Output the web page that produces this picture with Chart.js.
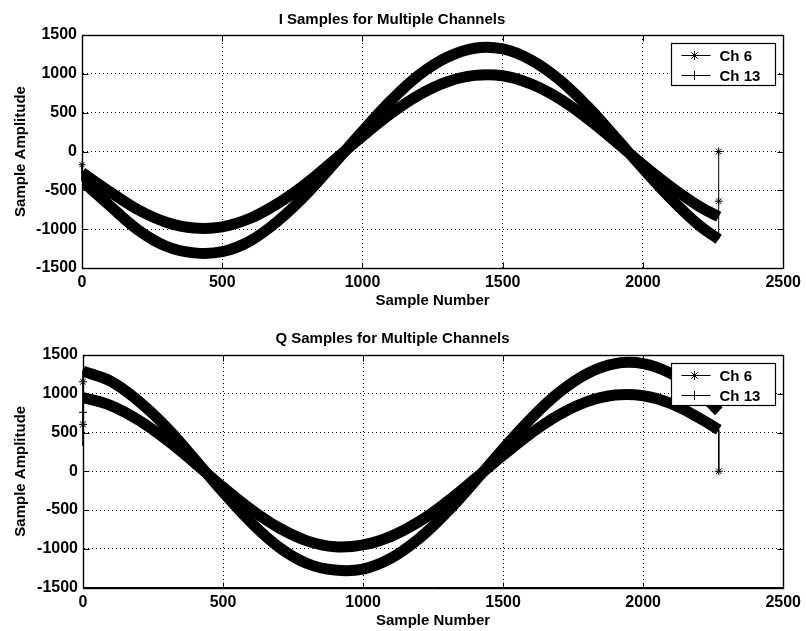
<!DOCTYPE html>
<html>
<head>
<meta charset="utf-8">
<script src="https://cdn.jsdelivr.net/npm/chart.js@4.4.1/dist/chart.umd.min.js"></script>
<style>
html,body{margin:0;padding:0;background:#fff;}
#wrap{position:relative;width:806px;height:631px;overflow:hidden;background:#fff;}
canvas{position:absolute;left:0;}
</style>
</head>
<body>
<div id="wrap">
<canvas id="cI" width="806" height="315" style="top:0px"></canvas>
<canvas id="cQ" width="806" height="316" style="top:315px"></canvas>
</div>
<script>
// ---------- data ----------
const sampleNumbers = [0,100,200,300,400,500,600,700,800,900,1000,1100,1200,1300,1400,1500,1600,1700,1800,1900,2000,2100,2200,2270];

// I samples
const iCh6  = [-380,-700,-1010,-1220,-1305,-1290,-1150,-890,-550,-150,260,650,980,1210,1330,1320,1180,930,590,190,-220,-610,-950,-1130];
const iCh13 = [-270,-520,-750,-910,-985,-970,-860,-665,-410,-110,195,485,725,895,980,975,870,685,430,135,-170,-455,-705,-840];

// Q samples
const qCh6  = [952,847,656,400,103,-205,-493,-731,-898,-975,-951,-840,-649,-393,-98,206,491,730,899,983,974,872,687,535];
const qCh13 = [1290,1160,900,560,150,-270,-660,-980,-1190,-1275,-1262,-1122,-869,-526,-127,289,683,1018,1261,1389,1389,1261,1018,775];

// odd first / last samples (vertical jumps)
const iStartX = [0,0];            const iStartY = [-170,-380];
const iEndX   = [2270,2270,2270]; const iEndY   = [-1130,-640,0];
const qStartX = [0,0,0,0,0];      const qStartY = [1300,1155,760,605,330];
const qEndX   = [2270,2270];      const qEndY   = [535,0];

// tick labels
const xTicks = [0,500,1000,1500,2000,2500];
const yTicks = [-1500,-1000,-500,0,500,1000,1500];

const seriesNames = ['Ch 6','Ch 13'];
const titles = ['I Samples for Multiple Channels','Q Samples for Multiple Channels'];
const xTitle = 'Sample Number';
const yTitle = 'Sample Amplitude';

// ---------- helpers ----------
const FONT = "'Liberation Sans', Arial, Helvetica, sans-serif";
Chart.defaults.font.family = FONT;
Chart.defaults.font.size = 15;
Chart.defaults.font.weight = 'bold';
Chart.defaults.color = '#000';

const pts = (xs, ys) => xs.map((x, i) => ({x: x, y: ys[i]}));

function drawMarker(ctx, style, x, y, r) {
  const angles = style === 'star' ? [0, 45, 90, 135] : [0, 90];
  ctx.beginPath();
  angles.forEach(a => {
    const rad = a * Math.PI / 180;
    const dx = Math.cos(rad) * r, dy = Math.sin(rad) * r;
    ctx.moveTo(x - dx, y - dy);
    ctx.lineTo(x + dx, y + dy);
  });
  ctx.stroke();
}

const framePlugin = {
  id: 'matlabFrame',
  afterDatasetsDraw(chart) {
    const ctx = chart.ctx, ca = chart.chartArea;
    const xs = chart.scales.x, ys = chart.scales.y;
    const L = Math.round(ca.left) + 0.5, R = Math.round(ca.right) + 0.5;
    const T = Math.round(ca.top) + 0.5, B = Math.round(ca.bottom) + 0.5;
    ctx.save();
    ctx.strokeStyle = '#000';
    ctx.lineWidth = 1.4;
    ctx.setLineDash([]);
    ctx.strokeRect(L, T, R - L, B - T);
    ctx.lineWidth = 1;
    ctx.beginPath();
    xTicks.forEach(v => {
      const px = Math.round(xs.getPixelForValue(v)) + 0.5;
      ctx.moveTo(px, B); ctx.lineTo(px, B - 6);
      ctx.moveTo(px, T); ctx.lineTo(px, T + 6);
    });
    yTicks.forEach(v => {
      const py = Math.round(ys.getPixelForValue(v)) + 0.5;
      ctx.moveTo(L, py); ctx.lineTo(L + 6, py);
      ctx.moveTo(R, py); ctx.lineTo(R - 6, py);
    });
    ctx.stroke();

    // legend box (MATLAB style, inside the axes, top right)
    const items = chart.data.datasets.filter(d => d.label);
    const w = 104, h = 42;
    const lx = Math.round(ca.right - 8 - w) + 0.5;
    const ly = Math.round(ca.top + 8) + 0.5;
    ctx.fillStyle = '#fff';
    ctx.fillRect(lx, ly, w, h);
    ctx.lineWidth = 1.2;
    ctx.strokeRect(lx, ly, w, h);
    ctx.font = 'bold 15px ' + FONT;
    ctx.textBaseline = 'middle';
    ctx.textAlign = 'left';
    items.forEach((d, i) => {
      const y = Math.round(ly + 11.5 + i * 19.5) + 0.5;
      ctx.strokeStyle = '#000';
      ctx.lineWidth = 1;
      ctx.beginPath();
      ctx.moveTo(lx + 10, y); ctx.lineTo(lx + 39, y);
      ctx.stroke();
      drawMarker(ctx, d.legendMarker, lx + 23, y, 4.5);
      ctx.fillStyle = '#000';
      ctx.fillText(d.label, lx + 48, y + 1);
    });
    ctx.restore();
  }
};

function bandDataset(label, ys, marker) {
  return {
    label: label,
    legendMarker: marker,
    data: pts(sampleNumbers, ys),
    borderColor: '#000',
    backgroundColor: '#000',
    borderWidth: 11,
    pointRadius: 0,
    tension: 0.4,
    borderCapStyle: 'butt',
    clip: 0,
    fill: false
  };
}

function jumpDataset(xs, ys, styles, radii) {
  return {
    label: '',
    data: pts(xs, ys),
    borderColor: '#000',
    backgroundColor: '#000',
    borderWidth: 1,
    pointStyle: styles,
    pointRadius: radii,
    pointBorderColor: '#000',
    pointBorderWidth: 1,
    tension: 0,
    clip: false,
    fill: false
  };
}

const plainLabel = v => String(v);

function makeChart(id, title, datasets, g) {
  return new Chart(document.getElementById(id), {
    type: 'line',
    data: { datasets: datasets },
    options: {
      responsive: false,
      animation: false,
      devicePixelRatio: 1,
      layout: { padding: { left: 0, right: g.right, top: 0, bottom: 0 } },
      plugins: {
        legend: { display: false },
        tooltip: { enabled: false },
        title: {
          display: true, text: title, color: '#000',
          font: { size: 15, weight: 'bold', family: FONT },
          padding: { top: g.titleTop, bottom: g.titleBottom }
        }
      },
      scales: {
        x: {
          type: 'linear', min: 0, max: 2500,
          afterBuildTicks: s => { s.ticks = xTicks.map(v => ({value: v})); },
          afterFit: s => { s.height = g.xHeight; },
          ticks: { color: '#000', padding: 5, font: { size: 16, weight: 'bold' }, maxRotation: 0, callback: plainLabel },
          grid: { color: '#000', lineWidth: 1, drawTicks: false, tickLength: 0 },
          border: { display: true, color: '#000', width: 1, dash: [1, 3] },
          title: { display: true, text: xTitle, color: '#000', font: { size: 15, weight: 'bold' }, padding: { top: 0, bottom: g.xTitlePad } }
        },
        y: {
          type: 'linear', min: -1500, max: 1500,
          afterBuildTicks: s => { s.ticks = yTicks.map(v => ({value: v})); },
          afterFit: s => { s.width = g.left; },
          ticks: { color: '#000', padding: 5, font: { size: 16, weight: 'bold' }, callback: plainLabel },
          grid: { color: '#000', lineWidth: 1, drawTicks: false, tickLength: 0 },
          border: { display: true, color: '#000', width: 1, dash: [1, 3] },
          title: { display: true, text: yTitle, color: '#000', font: { size: 15, weight: 'bold' }, padding: { top: 12, bottom: 0 } }
        }
      }
    },
    plugins: [framePlugin]
  });
}

makeChart('cI', titles[0], [
  bandDataset(seriesNames[0], iCh6, 'star'),
  bandDataset(seriesNames[1], iCh13, 'cross'),
  jumpDataset(iStartX, iStartY, ['star','star'], [3.5, 0]),
  jumpDataset(iEndX, iEndY, ['star','star','star'], [0, 4, 4])
], { right: 22, left: 82, titleTop: 11, titleBottom: 6, xHeight: 47, xTitlePad: 5 });

makeChart('cQ', titles[1], [
  bandDataset(seriesNames[0], qCh6, 'star'),
  bandDataset(seriesNames[1], qCh13, 'cross'),
  jumpDataset(qStartX, qStartY, ['star','star','cross','star','cross'], [0, 4, 4, 4, 0]),
  jumpDataset(qEndX, qEndY, ['star','star'], [0, 4])
], { right: 21, left: 83, titleTop: 15, titleBottom: 7, xHeight: 43.5, xTitlePad: 1.5 });
</script>
</body>
</html>
